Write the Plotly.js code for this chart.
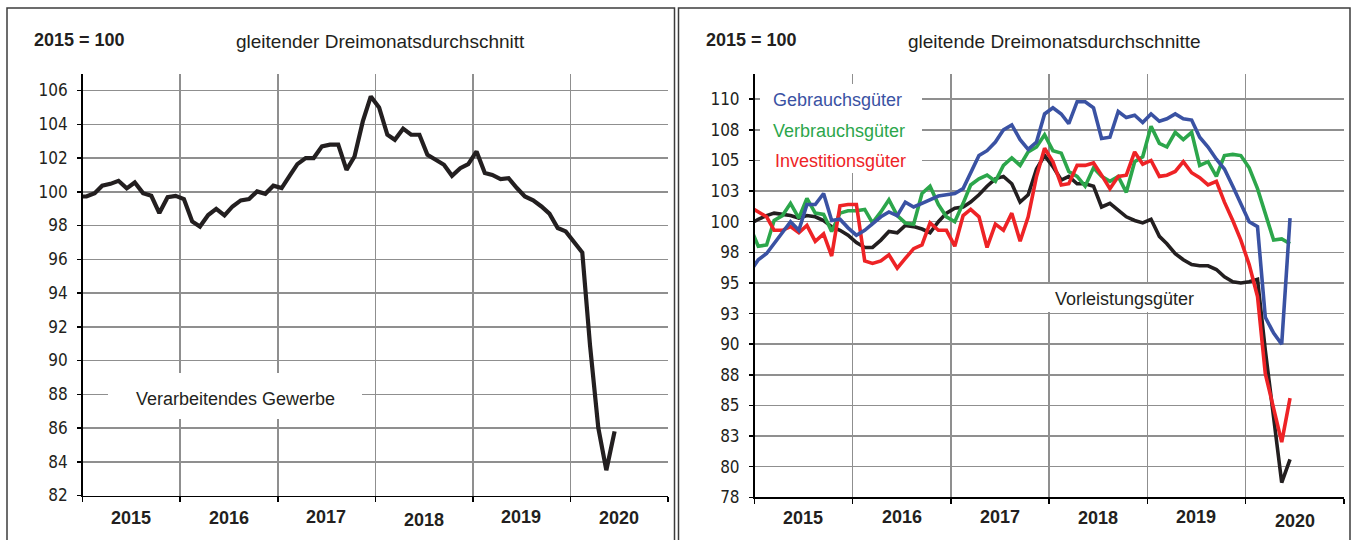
<!DOCTYPE html>
<html>
<head>
<meta charset="utf-8">
<script src="https://cdn.plot.ly/plotly-3.0.1.min.js"></script>
<style>html,body{margin:0;padding:0;background:#fff;}#chart{width:1353px;height:540px;}</style>
</head>
<body>
<div id="chart"></div>
<script>
// Months from Dec 2014 to Jun 2020 (mid-month points)
const firstMonth = [2014, 12];
const nMonths = 67;
const months = [];
for (let k = 0; k < nMonths; k++) {
  const m0 = firstMonth[1] - 1 + k;
  const y = firstMonth[0] + Math.floor(m0 / 12);
  const m = (m0 % 12) + 1;
  months.push(y + '-' + String(m).padStart(2, '0') + '-15');
}
const yearLabels = ['2015', '2016', '2017', '2018', '2019', '2020'];

// Left chart: Verarbeitendes Gewerbe (2015 = 100, gleitender Dreimonatsdurchschnitt)
const verarbeitendesGewerbe = [
  99.72,
  99.72, 99.92, 100.36, 100.47, 100.65, 100.20, 100.55, 99.92, 99.76, 98.74, 99.68, 99.76,
  99.57, 98.24, 97.94, 98.62, 98.99, 98.60, 99.13, 99.49, 99.57, 100.02, 99.88, 100.36,
  100.22, 100.97, 101.64, 102.00, 102.00, 102.69, 102.79, 102.79, 101.30, 102.09, 104.17, 105.65,
  105.00, 103.38, 103.08, 103.74, 103.38, 103.38, 102.19, 101.90, 101.60, 100.95, 101.40, 101.64,
  102.39, 101.11, 101.00, 100.75, 100.81, 100.22, 99.72, 99.49, 99.13, 98.70, 97.85, 97.65,
  97.06, 96.40, 90.90, 86.00, 83.50, 85.80
];

// Right chart: Hauptgruppen
const vorleistungsgueter = [
  99.8,
  100.2, 100.5, 100.7, 100.6, 100.5, 100.3, 100.5, 100.4, 100.1, 99.6, 99.3, 98.9,
  98.3, 97.9, 97.9, 98.5, 99.2, 99.1, 99.7, 99.6, 99.4, 99.1, 100.0, 100.7,
  101.1, 101.2, 101.6, 102.2, 102.9, 103.5, 103.7, 103.1, 101.6, 102.2, 104.3, 105.4,
  104.5, 103.4, 103.7, 103.1, 103.1, 102.9, 101.2, 101.5, 100.9, 100.4, 100.1, 99.9,
  100.2, 98.8, 98.2, 97.4, 96.9, 96.5, 96.4, 96.4, 96.1, 95.5, 95.1, 95.0,
  95.1, 95.3, 89.5, 84.0, 78.7, 80.6
];
const gebrauchsgueter = [
  95.9,
  96.9, 97.4, 98.2, 99.2, 100.0, 99.3, 101.4, 101.4, 102.3, 100.1, 100.2, 99.5,
  98.9, 99.3, 99.8, 100.4, 100.8, 100.5, 101.6, 101.2, 101.5, 101.8, 102.1, 102.2,
  102.3, 102.7, 104.0, 105.4, 105.8, 106.5, 107.5, 107.9, 106.7, 105.9, 106.5, 108.8,
  109.3, 108.8, 108.0, 109.8, 109.8, 109.3, 106.8, 106.9, 109.0, 108.5, 108.7, 108.1,
  108.8, 108.2, 108.4, 108.8, 108.4, 108.3, 106.9, 106.1, 105.1, 104.3, 102.9, 101.4,
  100.0, 99.6, 92.2, 90.9, 90.0, 100.3
];
const verbrauchsgueter = [
  99.6,
  98.0, 98.1, 100.1, 100.5, 101.5, 100.3, 101.9, 100.7, 100.6, 99.2, 100.7, 100.9,
  100.9, 101.0, 99.9, 100.8, 101.8, 100.5, 99.9, 99.8, 102.3, 102.9, 101.4, 100.4,
  100.0, 101.5, 103.0, 103.5, 103.8, 103.3, 104.6, 105.2, 104.6, 105.7, 106.1, 107.1,
  105.8, 105.6, 104.1, 103.7, 102.9, 104.4, 103.7, 103.3, 103.7, 102.4, 104.9, 105.3,
  107.8, 106.4, 106.1, 107.3, 106.7, 107.3, 104.6, 104.9, 103.7, 105.4, 105.5, 105.4,
  104.4, 102.7, 100.6, 98.5, 98.6, 98.2
];
const investitionsgueter = [
  101.2,
  100.8, 100.4, 99.3, 99.3, 99.6, 99.1, 99.7, 98.4, 99.0, 97.2, 101.3, 101.4,
  101.4, 96.8, 96.6, 96.8, 97.3, 96.2, 97.0, 97.8, 98.1, 99.9, 99.3, 99.3,
  98.0, 100.5, 101.0, 100.4, 97.9, 99.8, 99.3, 100.7, 98.4, 100.4, 103.7, 106.0,
  104.9, 103.0, 103.1, 104.6, 104.6, 104.8, 103.8, 102.7, 103.7, 103.8, 105.7, 104.7,
  105.0, 103.7, 103.8, 104.1, 104.9, 104.0, 103.6, 103.0, 103.3, 101.6, 100.1, 98.5,
  96.5, 93.9, 87.6, 84.8, 82.0, 85.6
];

const leftTicks = [82, 84, 86, 88, 90, 92, 94, 96, 98, 100, 102, 104, 106];
const rightTickVals = [77.5, 80, 82.5, 85, 87.5, 90, 92.5, 95, 97.5, 100, 102.5, 105, 107.5, 110];
const rightTickText = ['78', '80', '83', '85', '88', '90', '93', '95', '98', '100', '103', '105', '108', '110'];

// ---------- styling / layout ----------
const W = 1353, H = 540;
const px = x => x / W;
const py = y => 1 - y / H;
const NARROW = "'Liberation Sans Narrow', 'DejaVu Sans Condensed', 'Arial Narrow', sans-serif";
const REG = "'Liberation Sans', Arial, sans-serif";
const GRID = '#8f8f8f';
const BLACK = '#231f20', BLUE = '#3a52a3', GREEN = '#2ca64b', RED = '#ee2326';

const yearTicks = ['2015-01-01','2016-01-01','2017-01-01','2018-01-01','2019-01-01','2020-01-01','2021-01-01'];
const yearCenters = ['2015-07-02','2016-07-02','2017-07-02','2018-07-02','2019-07-02','2020-07-02'];

function xAxis(domain, anchor) {
  return {
    domain: domain, anchor: anchor, type: 'date',
    range: ['2015-01-01', '2021-01-01'],
    tickmode: 'array', tickvals: yearTicks, showticklabels: false,
    ticks: 'outside', ticklen: 5, tickwidth: 1.5, tickcolor: '#000',
    showgrid: true, gridcolor: GRID, gridwidth: 1.5,
    showline: true, linecolor: '#000', linewidth: 1.5,
    zeroline: false, fixedrange: true
  };
}
function yAxis(domain, anchor, range, vals, text) {
  return {
    domain: domain, anchor: anchor, range: range,
    tickmode: 'array', tickvals: vals, ticktext: text,
    ticks: 'outside', ticklen: 4, tickwidth: 1.5, tickcolor: '#000',
    ticklabelstandoff: 6,
    tickfont: {family: NARROW, size: 17, color: '#231f20'},
    showgrid: true, gridcolor: GRID, gridwidth: 1.5,
    showline: true, linecolor: '#000', linewidth: 1.5,
    zeroline: false, fixedrange: true
  };
}

const traces = [
  {x: months, y: verarbeitendesGewerbe, xaxis: 'x', yaxis: 'y', type: 'scatter', mode: 'lines',
   line: {color: BLACK, width: 4.2}, name: 'Verarbeitendes Gewerbe'},
  {x: months, y: vorleistungsgueter, xaxis: 'x2', yaxis: 'y2', type: 'scatter', mode: 'lines',
   line: {color: BLACK, width: 3.6}, name: 'Vorleistungsgüter'},
  {x: months, y: verbrauchsgueter, xaxis: 'x2', yaxis: 'y2', type: 'scatter', mode: 'lines',
   line: {color: GREEN, width: 3.6}, name: 'Verbrauchsgüter'},
  {x: months, y: investitionsgueter, xaxis: 'x2', yaxis: 'y2', type: 'scatter', mode: 'lines',
   line: {color: RED, width: 3.6}, name: 'Investitionsgüter'},
  {x: months, y: gebrauchsgueter, xaxis: 'x2', yaxis: 'y2', type: 'scatter', mode: 'lines',
   line: {color: BLUE, width: 3.6}, name: 'Gebrauchsgüter'}
];

const annotations = [];
function txt(text, x, y, opts) {
  annotations.push(Object.assign({
    text: text, xref: 'paper', yref: 'paper', x: px(x), y: py(y),
    xanchor: 'center', yanchor: 'middle', showarrow: false,
    font: {family: NARROW, size: 18, color: '#231f20'}
  }, opts || {}));
}
txt('2015 = 100', 79, 40, {font: {family: REG, size: 18, color: '#231f20', weight: 'bold'}});
txt('gleitender Dreimonatsdurchschnitt', 380.5, 41, {font: {family: REG, size: 19, color: '#231f20'}});
txt('2015 = 100', 751, 40, {font: {family: REG, size: 18, color: '#231f20', weight: 'bold'}});
txt('gleitende Dreimonatsdurchschnitte', 1054, 41, {font: {family: REG, size: 19, color: '#231f20'}});
txt('Verarbeitendes Gewerbe', 235.5, 399, {font: {family: REG, size: 18, color: '#231f20'}});
txt('Gebrauchsgüter', 771, 100, {xanchor: 'left', font: {family: REG, size: 18, color: BLUE}});
txt('Verbrauchsgüter', 771, 131, {xanchor: 'left', font: {family: REG, size: 18, color: GREEN}});
txt('Investitionsgüter', 773, 161, {xanchor: 'left', font: {family: REG, size: 18, color: RED}});
txt('Vorleistungsgüter', 1124.5, 299, {font: {family: REG, size: 18, color: '#231f20'}});

const yearY = [518, 518, 517, 520, 517, 518];
const yearY2 = [518, 517, 517, 518, 517, 521];
yearLabels.forEach((lab, k) => {
  annotations.push({text: lab, xref: 'x', yref: 'paper', x: yearCenters[k], y: py(yearY[k]),
    xanchor: 'center', yanchor: 'middle', showarrow: false,
    font: {family: REG, size: 18, color: '#231f20', weight: 'bold'}});
  annotations.push({text: lab, xref: 'x2', yref: 'paper', x: yearCenters[k], y: py(yearY2[k]),
    xanchor: 'center', yanchor: 'middle', showarrow: false,
    font: {family: REG, size: 18, color: '#231f20', weight: 'bold'}});
});

function box(x0, y0, x1, y1) {
  return {type: 'rect', xref: 'paper', yref: 'paper', x0: px(x0), x1: px(x1), y0: py(y1), y1: py(y0),
    fillcolor: '#fff', line: {width: 0}, layer: 'above'};
}
function frame(x0, x1) {
  return {type: 'rect', xref: 'paper', yref: 'paper', x0: px(x0), x1: px(x1), y0: -0.05, y1: py(8),
    fillcolor: 'rgba(0,0,0,0)', line: {color: '#3c3c3c', width: 1.5}, layer: 'above'};
}
const shapes = [
  box(108, 373, 362, 419),
  box(760, 84, 922, 173),
  box(1047, 284, 1201, 312),
  frame(7, 674.5),
  frame(678.5, 1350)
];

const layout = {
  width: W, height: H,
  margin: {l: 0, r: 0, t: 0, b: 0},
  paper_bgcolor: '#fff', plot_bgcolor: '#fff',
  showlegend: false,
  xaxis: xAxis([px(82.7), px(668)], 'y'),
  yaxis: yAxis([py(495.5), py(74)], 'x', [82, 106.98], leftTicks, leftTicks.map(String)),
  xaxis2: xAxis([px(754.5), px(1343.8)], 'y2'),
  yaxis2: yAxis([py(497.3), py(74)], 'x2', [77.5, 112.06], rightTickVals, rightTickText),
  annotations: annotations,
  shapes: shapes
};

Plotly.newPlot('chart', traces, layout, {displayModeBar: false, staticPlot: true});
</script>
</body>
</html>
